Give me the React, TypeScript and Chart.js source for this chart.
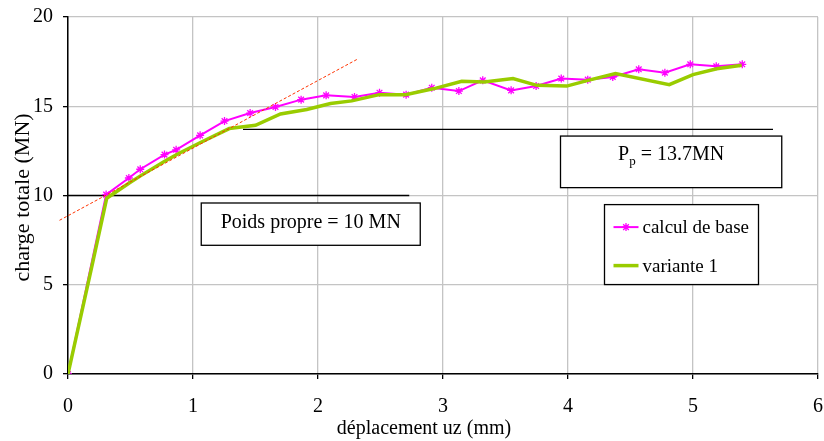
import React, { useEffect, useRef } from 'react';
import { Chart, registerables } from 'chart.js';

Chart.register(...registerables);

// ---- data ----
const baseX = [0, 0.305, 0.487, 0.578, 0.772, 0.865, 1.057, 1.252, 1.457, 1.66, 1.865, 2.065, 2.292, 2.492, 2.705, 2.91, 3.127, 3.318, 3.545, 3.745, 3.946, 4.158, 4.358, 4.566, 4.775, 4.978, 5.186, 5.394];
const baseY = [0, 10.05, 10.98, 11.47, 12.29, 12.56, 13.37, 14.17, 14.62, 14.96, 15.37, 15.61, 15.52, 15.76, 15.65, 16.04, 15.85, 16.45, 15.89, 16.13, 16.55, 16.49, 16.64, 17.07, 16.88, 17.35, 17.24, 17.35];

const var1X = [0, 0.19, 0.31, 0.49, 0.58, 0.77, 0.87, 1.06, 1.29, 1.5, 1.7, 1.91, 2.1, 2.27, 2.49, 2.7, 2.93, 3.15, 3.33, 3.56, 3.75, 3.99, 4.16, 4.38, 4.81, 5.0, 5.19, 5.39];
const var1Y = [0, 6.0, 9.85, 10.7, 11.1, 11.9, 12.3, 12.97, 13.75, 13.93, 14.57, 14.82, 15.15, 15.3, 15.65, 15.65, 15.99, 16.4, 16.36, 16.55, 16.17, 16.13, 16.45, 16.83, 16.21, 16.77, 17.1, 17.3];

const tangentX = [-0.068, 2.324];
const tangentY = [8.61, 17.67];

const selfWeight = 10; // MN
const selfWeightX = [0, 2.73];
const plasticLoad = 13.7; // MN
const plasticX = [1.4, 5.64];

const xTickValues = [0, 1, 2, 3, 4, 5, 6];
const yTickValues = [0, 5, 10, 15, 20];

const seriesNames = ['calcul de base', 'variante 1'];
const xTitle = 'déplacement uz (mm)';
const yTitle = 'charge totale (MN)';
const selfWeightLabel = 'Poids propre = 10 MN';
const plasticLabelMain = 'P';
const plasticLabelSub = 'p';
const plasticLabelRest = ' = 13.7MN';

const PINK = '#FF00FF';
const GREEN = '#99CC00';
const FONT = "'Liberation Serif', 'Times New Roman', serif";

function zip(xs: number[], ys: number[]) {
  return xs.map((x, i) => ({ x, y: ys[i] }));
}

function drawStar(ctx: CanvasRenderingContext2D, cx: number, cy: number, r: number) {
  ctx.beginPath();
  ctx.moveTo(cx - r, cy);
  ctx.lineTo(cx + r, cy);
  ctx.moveTo(cx, cy - r);
  ctx.lineTo(cx, cy + r);
  const d = r * Math.SQRT1_2;
  ctx.moveTo(cx - d, cy - d);
  ctx.lineTo(cx + d, cy + d);
  ctx.moveTo(cx - d, cy + d);
  ctx.lineTo(cx + d, cy - d);
  ctx.stroke();
}

const annotPlugin = {
  id: 'annot',
  afterDatasetsDraw(chart: any) {
    const { ctx } = chart;
    const xs = chart.scales.x;
    const ys = chart.scales.y;
    const px = (v: number) => xs.getPixelForValue(v);
    const py = (v: number) => ys.getPixelForValue(v);
    ctx.save();

    const box = (x0: number, y0: number, x1: number, y1: number) => {
      const l = px(x0), r = px(x1), t = py(y0), b = py(y1);
      ctx.fillStyle = '#ffffff';
      ctx.fillRect(l, t, r - l, b - t);
      ctx.strokeStyle = '#000000';
      ctx.lineWidth = 1.3;
      ctx.strokeRect(l, t, r - l, b - t);
      ctx.fillStyle = '#000000';
      return { l, r, t, b };
    };

    // Poids propre box
    const b1 = box(1.066, 9.58, 2.818, 7.21);
    ctx.fillStyle = '#000';
    ctx.font = `20px ${FONT}`;
    ctx.textAlign = 'center';
    ctx.textBaseline = 'alphabetic';
    ctx.fillText(selfWeightLabel, (b1.l + b1.r) / 2, b1.t + 25);

    // Pp box
    const b2 = box(3.94, 13.33, 5.71, 10.44);
    ctx.fillStyle = '#000';
    ctx.font = `20px ${FONT}`;
    const wMain = ctx.measureText(plasticLabelMain).width;
    const wRest = ctx.measureText(plasticLabelRest).width;
    ctx.font = `13px ${FONT}`;
    const wSub = ctx.measureText(plasticLabelSub).width;
    const total = wMain + wSub + wRest;
    let sx = (b2.l + b2.r) / 2 - total / 2;
    const base = b2.t + 24;
    ctx.textAlign = 'left';
    ctx.textBaseline = 'alphabetic';
    ctx.font = `20px ${FONT}`;
    ctx.fillText(plasticLabelMain, sx, base);
    sx += wMain;
    ctx.font = `13px ${FONT}`;
    ctx.fillText(plasticLabelSub, sx, base + 5);
    sx += wSub;
    ctx.font = `20px ${FONT}`;
    ctx.fillText(plasticLabelRest, sx, base);

    // legend box
    const b3 = box(4.292, 9.49, 5.524, 5.01);
    const items = [
      { name: seriesNames[0], color: PINK, width: 2, star: true, y: b3.t + 22.5 },
      { name: seriesNames[1], color: GREEN, width: 3.5, star: false, y: b3.t + 61 },
    ];
    items.forEach((it) => {
      ctx.strokeStyle = it.color;
      ctx.lineWidth = it.width;
      ctx.beginPath();
      ctx.moveTo(b3.l + 9, it.y);
      ctx.lineTo(b3.l + 34, it.y);
      ctx.stroke();
      if (it.star) {
        ctx.lineWidth = 1.3;
        drawStar(ctx, b3.l + 21.5, it.y, 4);
      }
      ctx.fillStyle = '#000';
      ctx.font = `19px ${FONT}`;
      ctx.textAlign = 'left';
      ctx.textBaseline = 'middle';
      ctx.fillText(it.name, b3.l + 38, it.y + 1);
    });

    // axis titles
    ctx.fillStyle = '#000';
    ctx.textAlign = 'center';
    ctx.textBaseline = 'middle';
    ctx.font = `20px ${FONT}`;
    ctx.fillText(xTitle, 424, chart.height - 12);
    ctx.save();
    ctx.translate(23, (chart.chartArea.top + chart.chartArea.bottom) / 2 + 2);
    ctx.rotate(-Math.PI / 2);
    ctx.font = `22px ${FONT}`;
    ctx.fillText(yTitle, 0, 0);
    ctx.restore();

    ctx.restore();
  },
};

export default function App() {
  const ref = useRef<HTMLCanvasElement | null>(null);

  useEffect(() => {
    document.body.style.margin = '0';
    const canvas = ref.current;
    if (!canvas) return;
    const chart = new Chart(canvas, {
      type: 'scatter',
      data: {
        datasets: [
          {
            label: 'tangente',
            data: zip(tangentX, tangentY),
            showLine: true,
            borderColor: '#FF3300',
            borderWidth: 1,
            borderDash: [3, 2],
            pointRadius: 0,
            clip: false,
            order: -1,
          } as any,
          {
            label: 'poids propre',
            data: selfWeightX.map((x) => ({ x, y: selfWeight })),
            showLine: true,
            borderColor: '#000',
            borderWidth: 1.3,
            pointRadius: 0,
            order: 3,
          },
          {
            label: 'Pp',
            data: plasticX.map((x) => ({ x, y: plasticLoad })),
            showLine: true,
            borderColor: '#000',
            borderWidth: 1.3,
            pointRadius: 0,
            order: 3,
          },
          {
            label: seriesNames[0],
            data: zip(baseX, baseY),
            showLine: true,
            borderColor: PINK,
            borderWidth: 2,
            pointStyle: 'star',
            pointRadius: 4,
            pointBorderColor: PINK,
            pointBackgroundColor: PINK,
            pointBorderWidth: 1.3,
            order: 1,
          },
          {
            label: seriesNames[1],
            data: zip(var1X, var1Y),
            showLine: true,
            borderColor: GREEN,
            borderWidth: 3.5,
            pointRadius: 0,
            order: 0,
          },
        ],
      },
      options: {
        animation: false,
        responsive: false,
        maintainAspectRatio: false,
        devicePixelRatio: 1,
        layout: { padding: { top: 17, right: 6, left: 0, bottom: 0 } },
        plugins: {
          legend: { display: false },
          tooltip: { enabled: false },
        },
        scales: {
          x: {
            type: 'linear',
            min: xTickValues[0],
            max: xTickValues[xTickValues.length - 1],
            afterBuildTicks: (s: any) => {
              s.ticks = xTickValues.map((v) => ({ value: v }));
            },
            afterFit: (s: any) => {
              s.height = 67;
              s.paddingLeft = 0;
              s.paddingRight = 0;
            },
            ticks: {
              color: '#000',
              font: { family: FONT, size: 20 },
              padding: 16,
              maxRotation: 0,
            },
            grid: {
              color: '#c4c4c4',
              lineWidth: 1.3,
              tickColor: '#000',
              tickLength: 5,
              tickWidth: 1.3,
            },
            border: { color: '#000', width: 1.5 },
          },
          y: {
            type: 'linear',
            min: yTickValues[0],
            max: yTickValues[yTickValues.length - 1],
            afterBuildTicks: (s: any) => {
              s.ticks = yTickValues.map((v) => ({ value: v }));
            },
            afterFit: (s: any) => {
              s.width = 68;
              s.paddingTop = 0;
              s.paddingBottom = 0;
            },
            ticks: {
              color: '#000',
              font: { family: FONT, size: 20 },
              padding: 10,
            },
            grid: {
              color: '#c4c4c4',
              lineWidth: 1.3,
              tickColor: '#000',
              tickLength: 5,
              tickWidth: 1.3,
            },
            border: { color: '#000', width: 1.5 },
          },
        },
      },
      plugins: [annotPlugin],
    } as any);
    return () => chart.destroy();
  }, []);

  return (
    <div style={{ position: 'absolute', left: 0, top: 0, width: 824, height: 441, background: '#fff' }}>
      <canvas ref={ref} width={824} height={441} style={{ display: 'block' }} />
    </div>
  );
}
